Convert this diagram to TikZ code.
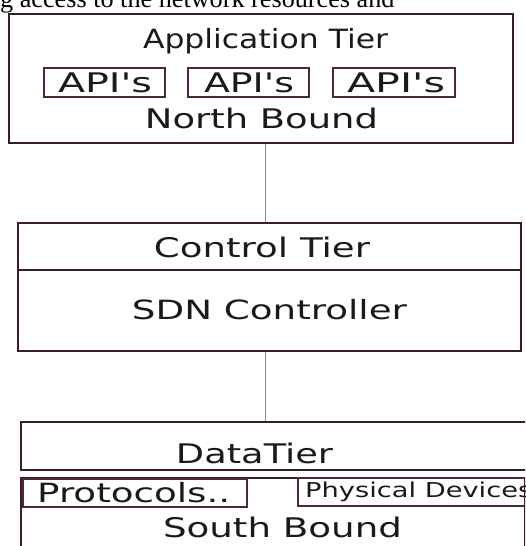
\documentclass[tikz,border=0pt]{standalone}
\usepackage{fontspec}
\setmainfont{DejaVu Sans}
\newfontfamily\serifx{Liberation Serif}
\usepackage{graphicx}
\definecolor{frame}{HTML}{3B1E22}
\definecolor{subframe}{HTML}{4E2A2E}
\definecolor{conn}{HTML}{8C8C8C}
\definecolor{ink}{HTML}{1A1A1A}
\newcommand{\fitt}[3]{\resizebox{#1pt}{\height}{\fontsize{#2}{#2}\selectfont #3}}
\newcommand{\apo}{\textquotesingle}
\begin{document}
\begin{tikzpicture}[x=1pt,y=-1pt,
  tier/.style={draw=frame,line width=2.4pt,inner sep=0pt,anchor=north west,fill=white},
  sub/.style={draw=subframe,line width=1.8pt,inner sep=0pt,anchor=north west},
  lbl/.style={inner sep=0pt,anchor=base,text=ink},
  lblw/.style={inner sep=0pt,anchor=base west,text=ink},
  link/.style={draw=conn,line width=1pt}]
\useasboundingbox (0,0) rectangle (525,546);
\clip (0,0) rectangle (525,546);
% caption fragment at top
\node[lblw,text=black] (cap) at (0,8) {\serifx\fontsize{26.2}{26.2}\selectfont g access to the network resources and};
% connector x position
\coordinate (cx) at (265,0);
% Application tier
\node[tier,minimum width=504pt,minimum height=129pt] (app) at (8,13) {};
\node[sub,minimum width=121pt,minimum height=29pt] (api1) at (43,67) {};
\node[sub,minimum width=121pt,minimum height=29pt] (api2) at (187,67) {};
\node[sub,minimum width=122pt,minimum height=29pt] (api3) at (332,67) {};
\node[lbl] (appt) at (265.5,48) {\fitt{245}{26.5}{Application Tier}};
\node[lbl] (a1) at (105,92) {\fitt{94}{27}{API\apo s}};
\node[lbl] (a2) at (249,92) {\fitt{90}{27}{API\apo s}};
\node[lbl] (a3) at (396,92) {\fitt{98}{27}{API\apo s}};
\node[lbl] (nb) at (261.5,128) {\fitt{233}{27}{North Bound}};
% Control tier
\node[tier,minimum width=503pt,minimum height=128pt] (ctl) at (17,222) {};
\node[tier,minimum width=503pt,minimum height=81pt] (ctlb) at (17,269) {};
\node[lbl] (ctt) at (262,257) {\fitt{216}{27}{Control Tier}};
\node[lbl] (sdn) at (269.5,319.5) {\fitt{275}{26.5}{SDN Controller}};
% Data tier
\node[tier,minimum width=507pt,minimum height=48pt] (dat) at (20,421) {};
\node[tier,minimum width=504pt,minimum height=140pt] (datb) at (20,477) {};
\node[sub,minimum width=224pt,minimum height=28pt] (prot) at (22,478) {};
\node[sub,minimum width=240pt,minimum height=28pt] (phys) at (297,477) {};
\node[lbl] (dtt) at (254.5,463) {\fitt{157}{27}{DataTier}};
\node[lblw] (prt) at (37,502) {\fitt{193}{26.5}{Protocols..}};
\node[lblw] (pht) at (305,497) {\fitt{227}{20.5}{Physical Devices}};
\node[lbl] (sb) at (282.5,537.5) {\fitt{239}{27}{South Bound}};
% connectors
\draw[link] (app.south -| cx) -- (ctl.north -| cx);
\draw[link] (ctlb.south -| cx) -- (dat.north -| cx);
\end{tikzpicture}
\end{document}
